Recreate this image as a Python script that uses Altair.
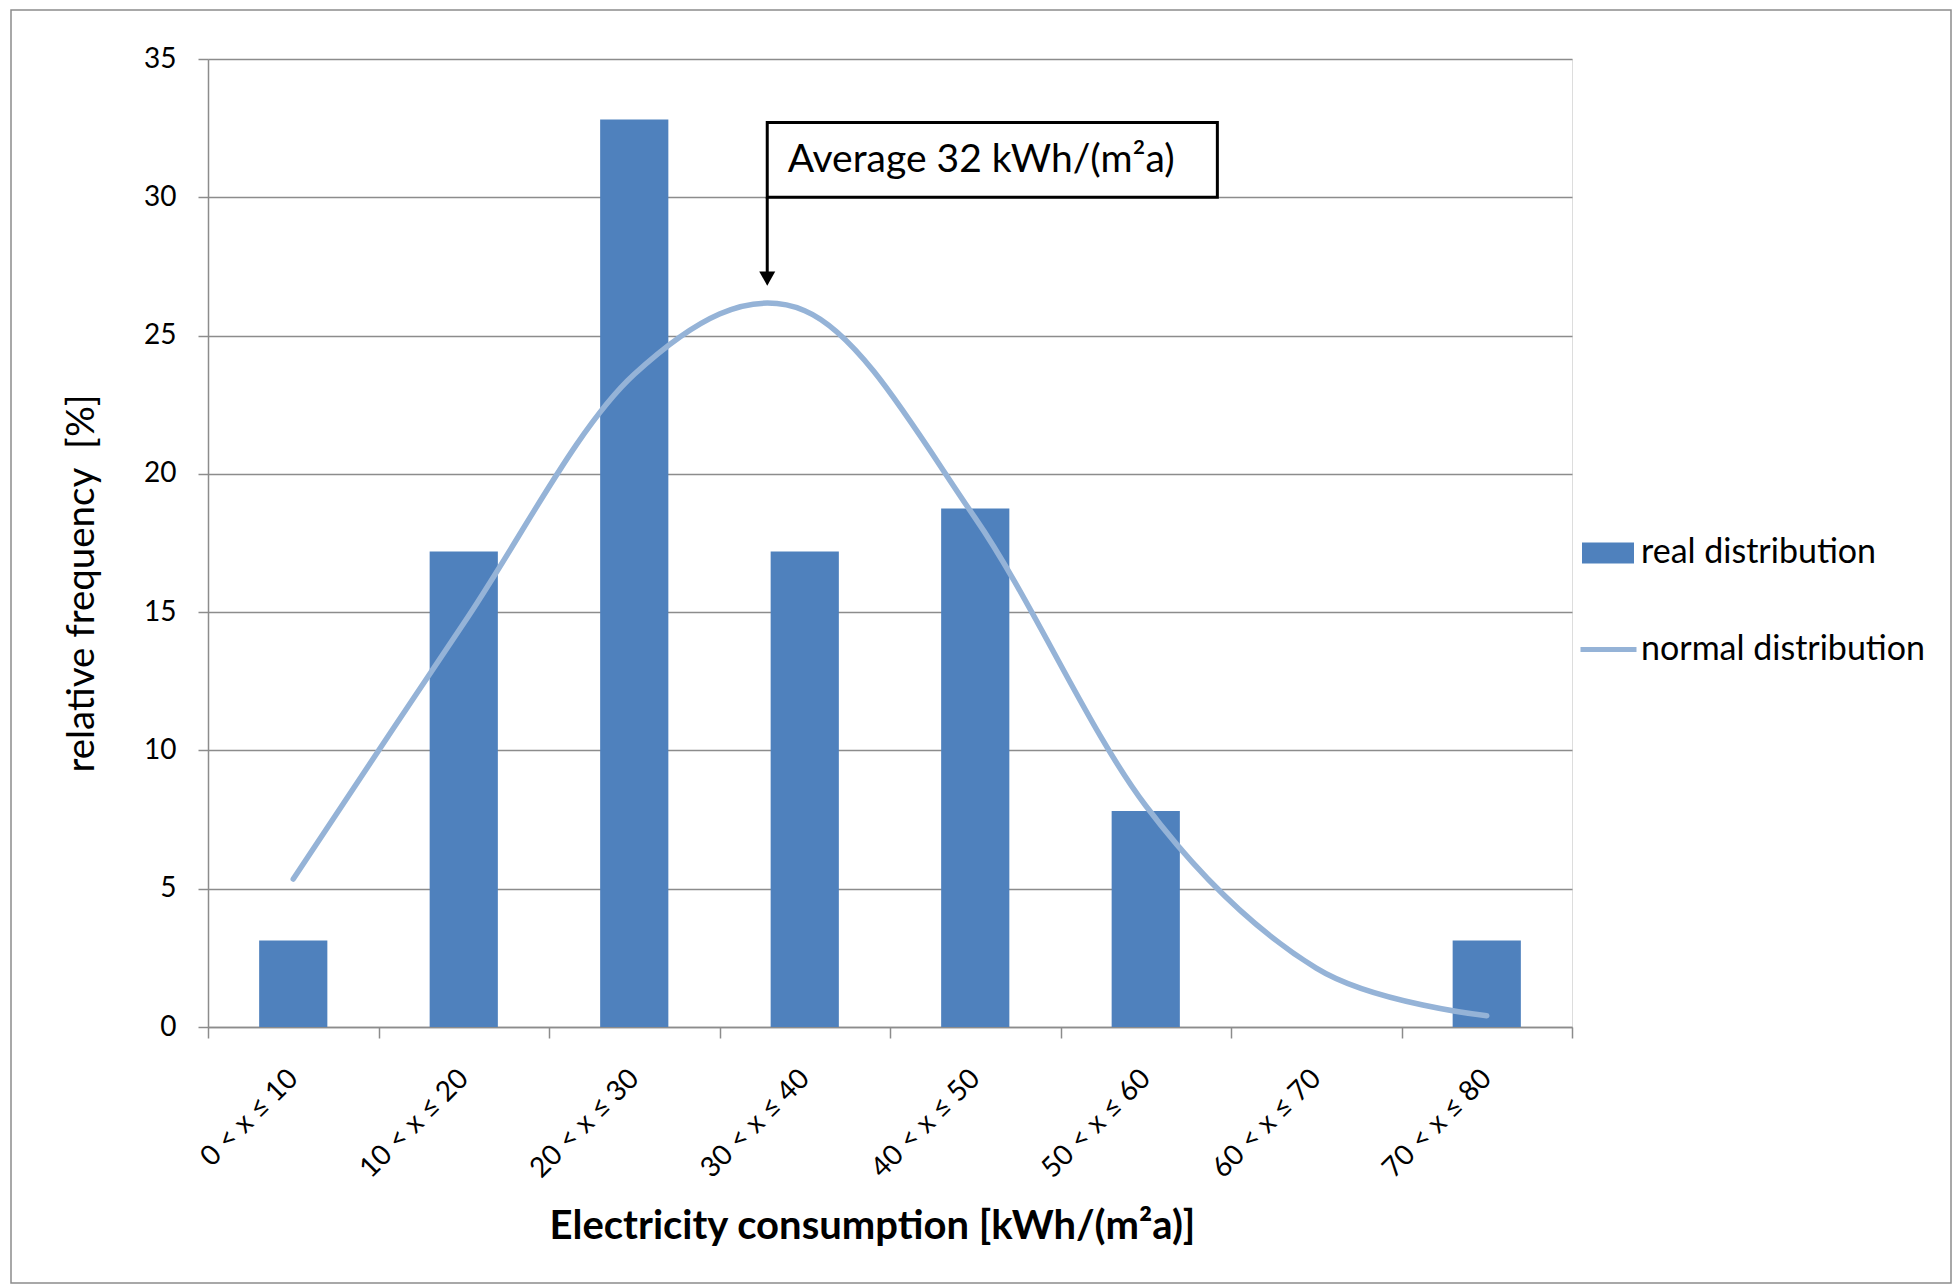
import altair as alt
import pandas as pd

# ---------------- data ----------------
categories = ["0 < x ≤ 10", "10 < x ≤ 20", "20 < x ≤ 30", "30 < x ≤ 40",
              "40 < x ≤ 50", "50 < x ≤ 60", "60 < x ≤ 70", "70 < x ≤ 80"]
real_distribution = [3.125, 17.19, 32.81, 17.19, 18.75, 7.81, 0.0, 3.125]
normal_distribution = [5.35, 14.6, 23.6, 25.9, 18.4, 8.0, 2.13, 0.41]
y_ticks = [0, 5, 10, 15, 20, 25, 30, 35]

series_names = ["real distribution", "normal distribution"]
x_title = "Electricity consumption [kWh/(m²a)]"
y_title = "relative frequency \u00a0[%]"

# annotation (in kWh / % units)
annotation_text = "Average 32 kWh/(m²a)"
annot_arrow_x = [32.8]
annot_box_x = [32.8, 59.2]
annot_box_y = [30.0, 32.7]
annot_text_xy = [34.0, 31.35]
annot_arrow_tip_y = [26.8]

# ---------------- style ----------------
FONT = "Lato"
W, H = 1364, 968
GRID = "#8c8c8c"
BAR_COLOR = "#4F81BD"
LINE_COLOR = "#95B3D7"

df = pd.DataFrame({
    "idx": list(range(len(categories))),
    "category": categories,
    "real": real_distribution,
    "normal": normal_distribution,
    "s1": series_names[0],
    "s2": series_names[1],
})

y_axis = alt.Axis(values=y_ticks, title=y_title, grid=True, gridColor=GRID, gridWidth=1.5,
                  domainColor=GRID, domainWidth=1.5, tickColor=GRID, tickWidth=1.5, tickSize=10,
                  labelFontSize=28, labelPadding=22, labelColor="black", labelFont=FONT,
                  titleFont=FONT, titleFontSize=38.5, titleFontWeight="normal", titleColor="black",
                  titleX=-127, titleY=524, titleBaseline="middle", titleAngle=270, titleLimit=0)
y_scale = alt.Scale(domain=[0, 35], nice=False, zero=True)

x_axis = alt.Axis(title=x_title, tickBand="extent", grid=False, domainColor=GRID, domainWidth=1.5,
                  tickColor=GRID, tickWidth=1.5, tickSize=11, labelAngle=-45, labelAlign="right",
                  labelBaseline="middle", labelPadding=36, labelFontSize=28, labelFont=FONT,
                  labelColor="black", titleFont=FONT, titleFontSize=40, titleFontWeight="bold",
                  titleColor="black", titleX=664, titleY=199, titleBaseline="middle", titleLimit=0)
x_scale = alt.Scale(domain=categories, paddingInner=0, paddingOuter=0)

bars = alt.Chart(df).mark_bar(width=alt.RelativeBandSize(0.4)).encode(
    x=alt.X("category:N", sort=categories, scale=x_scale, axis=x_axis),
    y=alt.Y("real:Q", scale=y_scale, axis=y_axis),
    color=alt.Color("s1:N", scale=alt.Scale(domain=[series_names[0]], range=[BAR_COLOR]),
                    legend=alt.Legend(orient="none", legendX=1373, legendY=467, title=None,
                                      symbolType="M-1,-0.4H1V0.4H-1Z", symbolSize=2704,
                                      symbolOpacity=1, labelFontSize=34, labelFont=FONT,
                                      labelColor="black", labelOffset=6, padding=0, labelLimit=0)),
)

line = alt.Chart(df).mark_line(interpolate="cardinal", strokeWidth=5.5, strokeCap="round").encode(
    x=alt.X("category:N", sort=categories, scale=x_scale, axis=x_axis),
    y=alt.Y("normal:Q", scale=y_scale, axis=y_axis),
    order=alt.Order("idx:Q"),
    stroke=alt.Stroke("s2:N", scale=alt.Scale(domain=[series_names[1]], range=[LINE_COLOR]),
                      legend=alt.Legend(orient="none", legendX=1370, legendY=560, title=None,
                                        symbolType="stroke", symbolSize=3136, symbolStrokeWidth=5,
                                        labelFontSize=34, labelFont=FONT, labelColor="black",
                                        labelOffset=2, padding=0, labelLimit=0)),
)

main = alt.layer(bars, line)

ax_scale = alt.Scale(domain=[0, 80], nice=False, zero=False)

box_df = pd.DataFrame({"x1": [annot_box_x[0]], "x2": [annot_box_x[1]],
                       "y1": [annot_box_y[0]], "y2": [annot_box_y[1]]})
box = alt.Chart(box_df).mark_rect(fill="white", stroke="black", strokeWidth=3).encode(
    x=alt.X("x1:Q", scale=ax_scale, axis=None), x2="x2:Q",
    y=alt.Y("y1:Q", scale=y_scale, axis=y_axis), y2="y2:Q",
)

arrow_df = pd.DataFrame({"x": annot_arrow_x, "y1": [annot_box_y[0]],
                         "y2": [annot_arrow_tip_y[0] + 0.4], "tip": annot_arrow_tip_y})
arrow = alt.Chart(arrow_df).mark_rule(color="black", strokeWidth=3).encode(
    x=alt.X("x:Q", scale=ax_scale, axis=None),
    y=alt.Y("y1:Q", scale=y_scale, axis=y_axis), y2="y2:Q",
)
head = alt.Chart(arrow_df).mark_point(shape="M-1,-1.8L1,-1.8L0,0Z", filled=True, color="black",
                                      opacity=1, size=256).encode(
    x=alt.X("x:Q", scale=ax_scale, axis=None),
    y=alt.Y("tip:Q", scale=y_scale, axis=y_axis),
)

text_df = pd.DataFrame({"x": [annot_text_xy[0]], "y": [annot_text_xy[1]], "t": [annotation_text]})
label = alt.Chart(text_df).mark_text(align="left", baseline="middle", fontSize=39, font=FONT,
                                     color="black").encode(
    x=alt.X("x:Q", scale=ax_scale, axis=None),
    y=alt.Y("y:Q", scale=y_scale, axis=y_axis),
    text="t:N",
)

annot = alt.layer(box, arrow, head, label)

border = alt.Chart(pd.DataFrame({"a": [0]})).mark_rect(filled=False, stroke="#8c8c8c",
                                                       strokeWidth=1.5).encode(
    x=alt.value(-197), x2=alt.value(1743), y=alt.value(-49), y2=alt.value(1224),
)

chart = alt.layer(border, main, annot).resolve_scale(x="independent").properties(
    width=W, height=H,
    autosize=alt.AutoSizeParams(type="none"),
    padding={"left": 208, "top": 59, "right": 382, "bottom": 260},
    background="white",
).configure_view(stroke=None).configure(font=FONT)

chart.save("out.html", embed_options={"renderer": "svg", "actions": False})
